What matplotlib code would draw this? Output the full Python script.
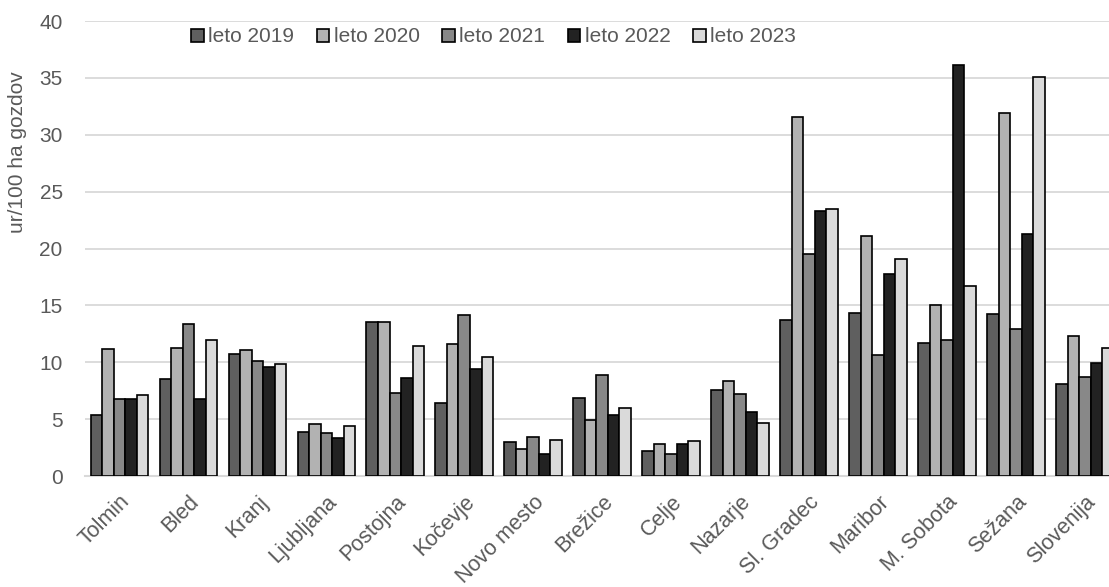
import matplotlib.pyplot as plt
import numpy as np

plt.rcParams['font.family'] = ['Liberation Sans', 'DejaVu Sans']

# data
regions = ['Tolmin', 'Bled', 'Kranj', 'Ljubljana', 'Postojna', 'Kočevje', 'Novo mesto',
           'Brežice', 'Celje', 'Nazarje', 'Sl. Gradec', 'Maribor', 'M. Sobota', 'Sežana', 'Slovenija']
years = ['leto 2019', 'leto 2020', 'leto 2021', 'leto 2022', 'leto 2023']
y2019 = [5.4, 8.5, 10.7, 3.85, 13.55, 6.45, 3.0, 6.9, 2.2, 7.55, 13.75, 14.35, 11.7, 14.25, 8.1]
y2020 = [11.15, 11.3, 11.1, 4.6, 13.55, 11.65, 2.35, 4.9, 2.8, 8.35, 31.6, 21.1, 15.0, 31.9, 12.35]
y2021 = [6.75, 13.35, 10.15, 3.75, 7.3, 14.15, 3.45, 8.9, 1.9, 7.25, 19.55, 10.65, 11.95, 12.95, 8.75]
y2022 = [6.75, 6.75, 9.6, 3.35, 8.65, 9.4, 1.95, 5.35, 2.8, 5.6, 23.3, 17.75, 36.15, 21.25, 9.9]
y2023 = [7.15, 12.0, 9.85, 4.4, 11.45, 10.45, 3.15, 6.0, 3.05, 4.65, 23.5, 19.1, 16.75, 35.1, 11.25]
series = [y2019, y2020, y2021, y2022, y2023]
colors = ['#5f5f5f', '#b2b2b2', '#888888', '#222222', '#dadada']

fig = plt.figure(figsize=(11.09, 5.87), dpi=100)
ax = fig.add_axes([0.0766, 0.189, 0.9234, 0.775])

x = np.arange(len(regions))
w = 0.167
for i, (vals, c, lab) in enumerate(zip(series, colors, years)):
    ax.bar(x + (i - 2) * w, vals, width=w, color=c, edgecolor='black', linewidth=1.2,
           label=lab, zorder=3)

ax.set_ylim(0, 40)
ax.set_xlim(-0.5, 14.35)
ax.set_yticks(range(0, 41, 5))
ax.yaxis.grid(color='#d9d9d9', linewidth=1.3, zorder=0)
for s in ['top', 'right', 'left']:
    ax.spines[s].set_visible(False)
ax.spines['bottom'].set_color('#d9d9d9')
ax.spines['bottom'].set_linewidth(1.5)
ax.tick_params(axis='both', length=0, colors='#595959', labelsize=15)
ax.tick_params(axis='y', pad=16)
ax.set_xticks(x)
ax.set_xticklabels(regions, rotation=45, ha='right', rotation_mode='anchor', fontsize=15.5)
ax.tick_params(axis='x', pad=11)

fig.text(0.016, 0.74, 'ur/100 ha gozdov', rotation=90, ha='center', va='center',
         color='#595959', fontsize=15)

handles, labels = ax.get_legend_handles_labels()
fig.legend(handles, labels, loc='center', bbox_to_anchor=(0.445, 0.937), ncol=5,
           frameon=False, fontsize=15, labelcolor='#595959', handlelength=0.6,
           handleheight=0.6, handletextpad=0.2, columnspacing=1.1)

fig.savefig('out.png', dpi=100)
